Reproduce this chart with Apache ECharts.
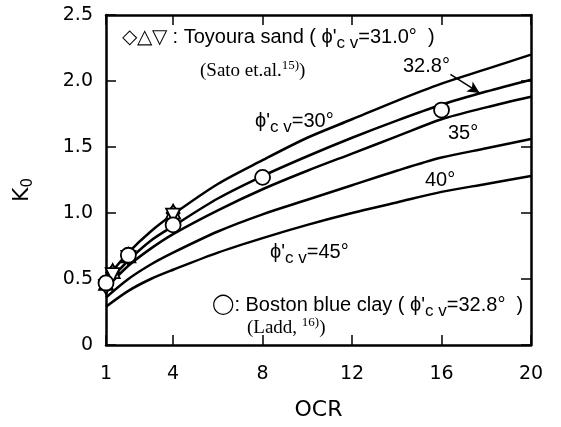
<!DOCTYPE html>
<html>
<head>
<meta charset="utf-8">
<script src="https://cdn.jsdelivr.net/npm/echarts@6/dist/echarts.min.js"></script>
<style>html,body{margin:0;background:#fff}#chart{width:561px;height:427px}</style>
</head>
<body>
<div id="chart"></div>
<script>
// K0 vs OCR curves, one per phi'cv
const ocr = [1, 2, 3, 4, 6, 8, 10, 12, 14, 16, 18, 20];
const k30 = [0.50, 0.70, 0.86, 0.99, 1.22, 1.40, 1.57, 1.71, 1.85, 1.98, 2.09, 2.20];
const k328 = [0.46, 0.64, 0.79, 0.90, 1.11, 1.28, 1.43, 1.57, 1.70, 1.82, 1.92, 2.01];
const k35 = [0.43, 0.60, 0.73, 0.84, 1.02, 1.18, 1.32, 1.45, 1.58, 1.71, 1.80, 1.88];
const k40 = [0.36, 0.50, 0.61, 0.70, 0.86, 0.99, 1.10, 1.21, 1.32, 1.42, 1.49, 1.56];
const k45 = [0.29, 0.41, 0.50, 0.57, 0.70, 0.81, 0.91, 1.00, 1.08, 1.16, 1.22, 1.28];

// measured points
const toyouraOcr = [1, 1.3, 2, 4];
const toyouraDiamond = [0.45, 0.55, 0.67, 1.00];
const toyouraUp = [0.47, 0.56, 0.68, 1.01];
const toyouraDown = [0.44, 0.53, 0.66, 0.98];
const bostonOcr = [1, 2, 4, 8, 16];
const bostonK0 = [0.47, 0.68, 0.91, 1.27, 1.78];

const xTicks = [1, 4, 8, 12, 16, 20];

const pair = (xs, ys) => xs.map((x, i) => [x, ys[i]]);
const black = '#000';
const sans = 'Liberation Sans';
const serif = 'Liberation Serif';

function curve(vals, extra) {
  return Object.assign({
    type: 'line', data: pair(ocr, vals), smooth: 0.3, symbol: 'none',
    lineStyle: { color: black, width: 2.5 }, silent: true, z: 2
  }, extra || {});
}
function points(xs, ys, symbol, size, rot) {
  return {
    type: 'scatter', data: pair(xs, ys), symbol: symbol, symbolSize: size,
    symbolRotate: rot || 0, z: 3, silent: true,
    itemStyle: { color: '#fff', borderColor: black, borderWidth: 1.8, opacity: 1 }
  };
}

const axisLine = { show: true, onZero: false, lineStyle: { color: black, width: 2.5 } };
const tick = { show: true, inside: true, length: 10, lineStyle: { color: black, width: 1.5 } };
const tickFont = { color: black, fontSize: 19, fontFamily: 'DejaVu Sans' };

const rich = {
  m: { fontSize: 20, fontFamily: sans, color: black },
  c: { fontSize: 20, fontFamily: 'DejaVu Sans', color: black },
  s: { fontSize: 17, fontFamily: sans, color: black, padding: [13, 0, 0, 0] },
  r: { fontSize: 19, fontFamily: serif, color: black },
  rs: { fontSize: 13, fontFamily: serif, color: black, padding: [0, 0, 10, 0] }
};
function note(x, y, text) {
  return { type: 'text', x: x, y: y, z: 10, style: { text: text, rich: rich, verticalAlign: 'middle', align: 'left' } };
}

const chart = echarts.init(document.getElementById('chart'));
chart.setOption({
  animation: false,
  backgroundColor: '#fff',
  grid: { left: 106, right: 30, top: 15, bottom: 82 },
  xAxis: [{
    type: 'value', min: 1, max: 20, position: 'bottom',
    axisLine: axisLine,
    axisTick: Object.assign({ customValues: xTicks }, tick),
    axisLabel: Object.assign({ customValues: xTicks, margin: 20 }, tickFont),
    splitLine: { show: false },
    name: 'OCR', nameLocation: 'middle', nameGap: 54,
    nameTextStyle: { color: black, fontSize: 22, fontFamily: 'DejaVu Sans' }
  }, {
    type: 'value', min: 1, max: 20, position: 'top',
    axisLine: axisLine,
    axisTick: Object.assign({ customValues: xTicks }, tick),
    axisLabel: { show: false },
    splitLine: { show: false }
  }],
  yAxis: [{
    type: 'value', min: 0, max: 2.5, interval: 0.5,
    axisLine: axisLine, axisTick: tick,
    axisLabel: Object.assign({ margin: 13, formatter: v => v === 0 ? '0' : v.toFixed(1) }, tickFont),
    splitLine: { show: false }
  }, {
    type: 'value', min: 0, max: 2.5, interval: 0.5, position: 'right',
    axisLine: axisLine, axisTick: tick,
    axisLabel: { show: false }, splitLine: { show: false }
  }],
  series: [
    curve(k30),
    curve(k328, {
      markLine: {
        silent: true, symbol: ['none', 'arrow'], symbolSize: [9, 12],
        label: { show: false },
        lineStyle: { color: black, width: 1.5, type: 'solid' },
        data: [[{ coord: [16.4, 2.05] }, { coord: [17.7, 1.91] }]]
      }
    }),
    curve(k35),
    curve(k40),
    curve(k45),
    points(toyouraOcr, toyouraDiamond, 'diamond', [13, 15]),
    points(toyouraOcr, toyouraUp, 'triangle', 14),
    points(toyouraOcr, toyouraDown, 'triangle', 14, 180),
    points(bostonOcr, bostonK0, 'circle', 15)
  ],
  graphic: [
    note(122, 37, '{m|◇△▽ : Toyoura sand ( ϕ\'}{s|c v}{m|=31.0°  )}'),
    note(200, 71, '{r|(Sato et.al.}{rs|15)}{r|)}'),
    note(255, 121, '{m|ϕ\'}{s|c v}{m|=30°}'),
    note(403, 66, '{m|32.8°}'),
    note(448, 133, '{m|35°}'),
    note(425, 180, '{m|40°}'),
    note(270, 252, '{m|ϕ\'}{s|c v}{m|=45°}'),
    note(212, 305, '{c|◯}{m|: Boston blue clay ( ϕ\'}{s|c v}{m|=32.8°  )}'),
    note(247, 328, '{r|(Ladd, }{rs|16)}{r|)}'),
    {
      type: 'text', x: 22, y: 190, rotation: Math.PI / 2, z: 10,
      style: {
        text: '{k|K}{o|0}', align: 'center', verticalAlign: 'middle',
        rich: {
          k: { fontSize: 22, fontFamily: 'DejaVu Sans', color: black },
          o: { fontSize: 15, fontFamily: 'DejaVu Sans', color: black, padding: [12, 0, 0, 0] }
        }
      }
    }
  ]
});
</script>
</body>
</html>
